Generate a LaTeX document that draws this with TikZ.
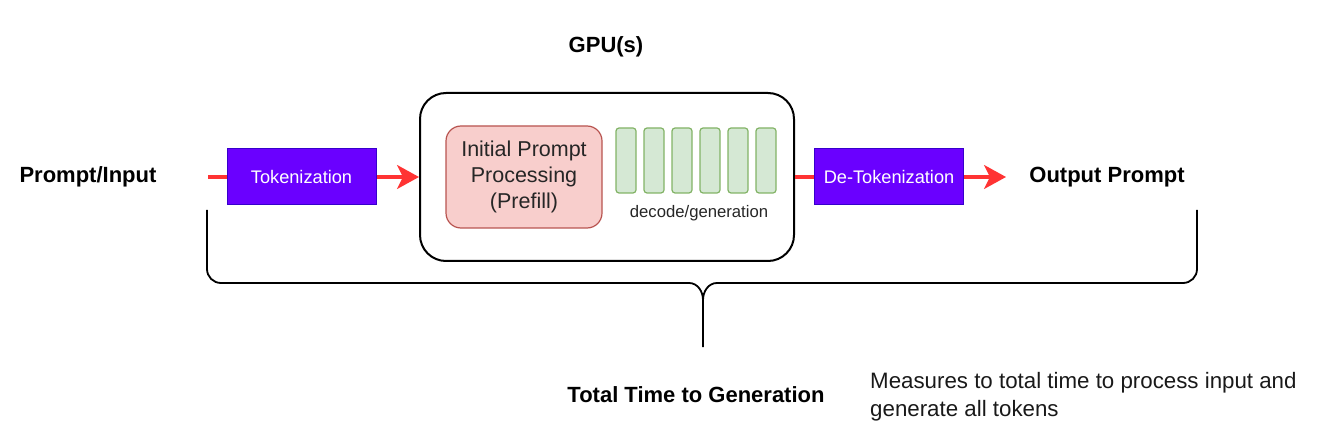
\documentclass[tikz,border=0pt]{standalone}
\usepackage{fontspec}
\setmainfont{Liberation Sans}
\usetikzlibrary{arrows.meta,positioning}
\definecolor{tokviolet}{HTML}{6A00FF}
\definecolor{tokedge}{HTML}{3700CC}
\definecolor{flowred}{HTML}{FF3333}
\definecolor{prefillfill}{HTML}{F8CECC}
\definecolor{prefilledge}{HTML}{B85450}
\definecolor{barfill}{HTML}{D5E8D4}
\definecolor{baredge}{HTML}{82B366}

\begin{document}
\begin{tikzpicture}[
  x=1pt, y=-1pt,
  lbl/.style={font=\fontsize{22}{26}\selectfont\bfseries, inner sep=0pt},
  tokbox/.style={draw=tokedge,fill=tokviolet,text=white,line width=1pt,inner sep=0pt,
    minimum width=149pt,minimum height=56pt,font=\fontsize{18.2}{22}\selectfont},
  gpubox/.style={draw,line width=2pt,rounded corners=26pt,minimum width=374pt,minimum height=168pt},
  prefill/.style={draw=prefilledge,fill=prefillfill,line width=1.2pt,rounded corners=15pt,
    minimum width=156pt,minimum height=102pt,align=center,text=black!85,
    font=\fontsize{21.5}{26}\selectfont},
  bar/.style={draw=baredge,fill=barfill,line width=1.2pt,rounded corners=3pt,
    minimum width=20pt,minimum height=65pt,inner sep=0pt},
  arr/.style={-{Stealth[length=22pt,width=24pt,inset=6pt]},draw=flowred,line width=3.2pt},
  link/.style={draw=flowred,line width=3.2pt},
  brace/.style={draw,line width=1.8pt}
]
\useasboundingbox (0,0) rectangle (1321,443);

\node[lbl] (pin) at (88,177) {Prompt/Input};
\node[lbl] (gpulbl) at (606,47) {GPU(s)};
\node[tokbox] (tok) at (301.5,177) {Tokenization};
\node[gpubox] (gpu) at (607,177) {};
\node[prefill] (pre) at (524,177) {Initial Prompt\\Processing\\(Prefill)};
\foreach \i in {0,...,5}
  \node[bar] (bar\i) at (626+28*\i,160.5) {};
\node[font=\fontsize{16.7}{20}\selectfont,text=black!85] (dec) at (699,213) {decode/generation};
\node[tokbox,right=19pt of gpu] (detok) {De-Tokenization};
\node[lbl] (out) at (1107,177) {Output Prompt};

\coordinate (src) at (208,177);
\coordinate (dst) at (1006,177);
\draw[link] (src) -- (tok);
\draw[arr] (tok) -- (gpu);
\draw[link] (gpu) -- (detok);
\draw[arr] (detok) -- (dst);

% brace under the whole pipeline
\coordinate (bl) at (207,210);
\coordinate (br) at (1197,210);
\coordinate (bm) at (703,300);
\coordinate (bs) at (703,347);
\draw[brace] (bl) -- (207,269) to[out=-90,in=180] (221,283) -- (689,283)
  to[out=0,in=90] (bm) -- (bs);
\draw[brace] (br) -- (1197,269) to[out=-90,in=0] (1183,283) -- (717,283)
  to[out=180,in=90] (bm);

\node[lbl] (ttg) at (696,395) {Total Time to Generation};
\node[anchor=west,align=left,inner sep=0pt,text=black!90,
  font=\fontsize{22.3}{28}\selectfont] (note) at (870,397)
  {Measures to total time to process input and\\generate all tokens};
\end{tikzpicture}
\end{document}
